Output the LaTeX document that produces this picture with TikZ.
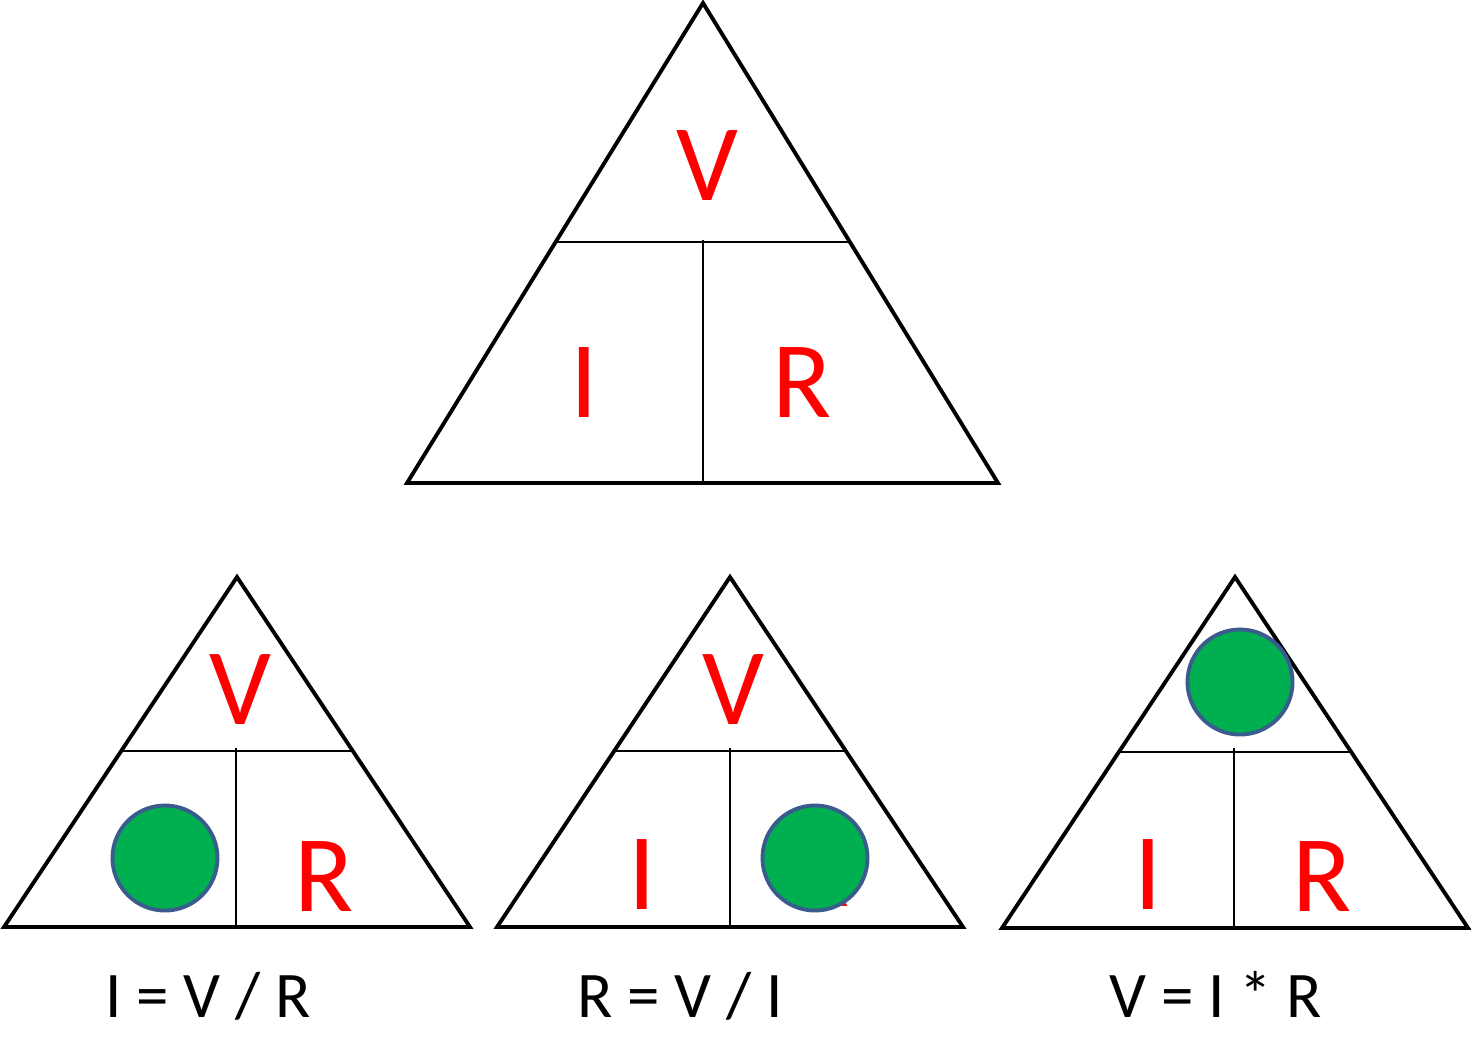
\documentclass[tikz,border=0pt]{standalone}
\usepackage{fontspec}
\setmainfont{Carlito}
\usepackage{tikz}
\definecolor{verde}{RGB}{0,176,80}
\definecolor{bordoblu}{RGB}{58,92,140}

\begin{document}
\begin{tikzpicture}[x=0.01cm, y=-0.01cm,
  tri/.style={line width=1.1pt, line join=miter},
  sep/.style={line width=0.65pt},
  lettera/.style={text=red, font=\fontsize{31}{31}\selectfont, inner sep=0pt},
  formula/.style={font=\fontsize{18.5}{19}\selectfont, inner sep=0pt, anchor=base},
  pallino/.style={circle, fill=verde, draw=bordoblu, line width=1.1pt, minimum size=1.05cm, inner sep=0pt}]
\useasboundingbox (0,0) rectangle (1471,1045);
% --- triangolo grande ---
\draw[tri] (703,3) -- (998,483) -- (407,483) -- cycle;
\draw[sep] (556,242) -- (850,242);
\draw[sep] (703,240) -- (703,483);
\node[lettera] (bigV) at (707,166) {V};
\node[lettera] (bigI) at (584,383) {I};
\node[lettera] (bigR) at (802,383) {R};
% --- triangolo 1: I = V / R ---
\draw[tri] (237,577) -- (470,927) -- (4,927) -- cycle;
\draw[sep] (121,751) -- (353,751);
\draw[sep] (236,748) -- (236,927);
\node[lettera] (unoV) at (240,690) {V};
\node[lettera] (unoR) at (324,877) {R};
\node[pallino] (unoI) at (165,858) {};
\node[formula] (unoF) at (208,1017) {I = V / R};
% --- triangolo 2: R = V / I ---
\draw[tri] (730,577) -- (963,927) -- (497,927) -- cycle;
\draw[sep] (614,751) -- (846,751);
\draw[sep] (730,748) -- (730,927);
\node[lettera] (dueV) at (733,690) {V};
\node[lettera] (dueI) at (642,875) {I};
\node[lettera] (dueR) at (820,872) {R};
\node[pallino] (duePallino) at (815,858) {};
\node[formula] (dueF) at (680,1017) {R = V / I};
% --- triangolo 3: V = I * R ---
\draw[tri] (1235,577) -- (1468,928) -- (1002,928) -- cycle;
\draw[sep] (1118,752) -- (1351,752);
\draw[sep] (1234,748) -- (1234,928);
\node[pallino] (trePallino) at (1240,682) {};
\node[lettera] (treI) at (1148,875) {I};
\node[lettera] (treR) at (1322,877) {R};
\node[formula] (treF) at (1216,1017) {V = I * R};
\end{tikzpicture}
\end{document}
